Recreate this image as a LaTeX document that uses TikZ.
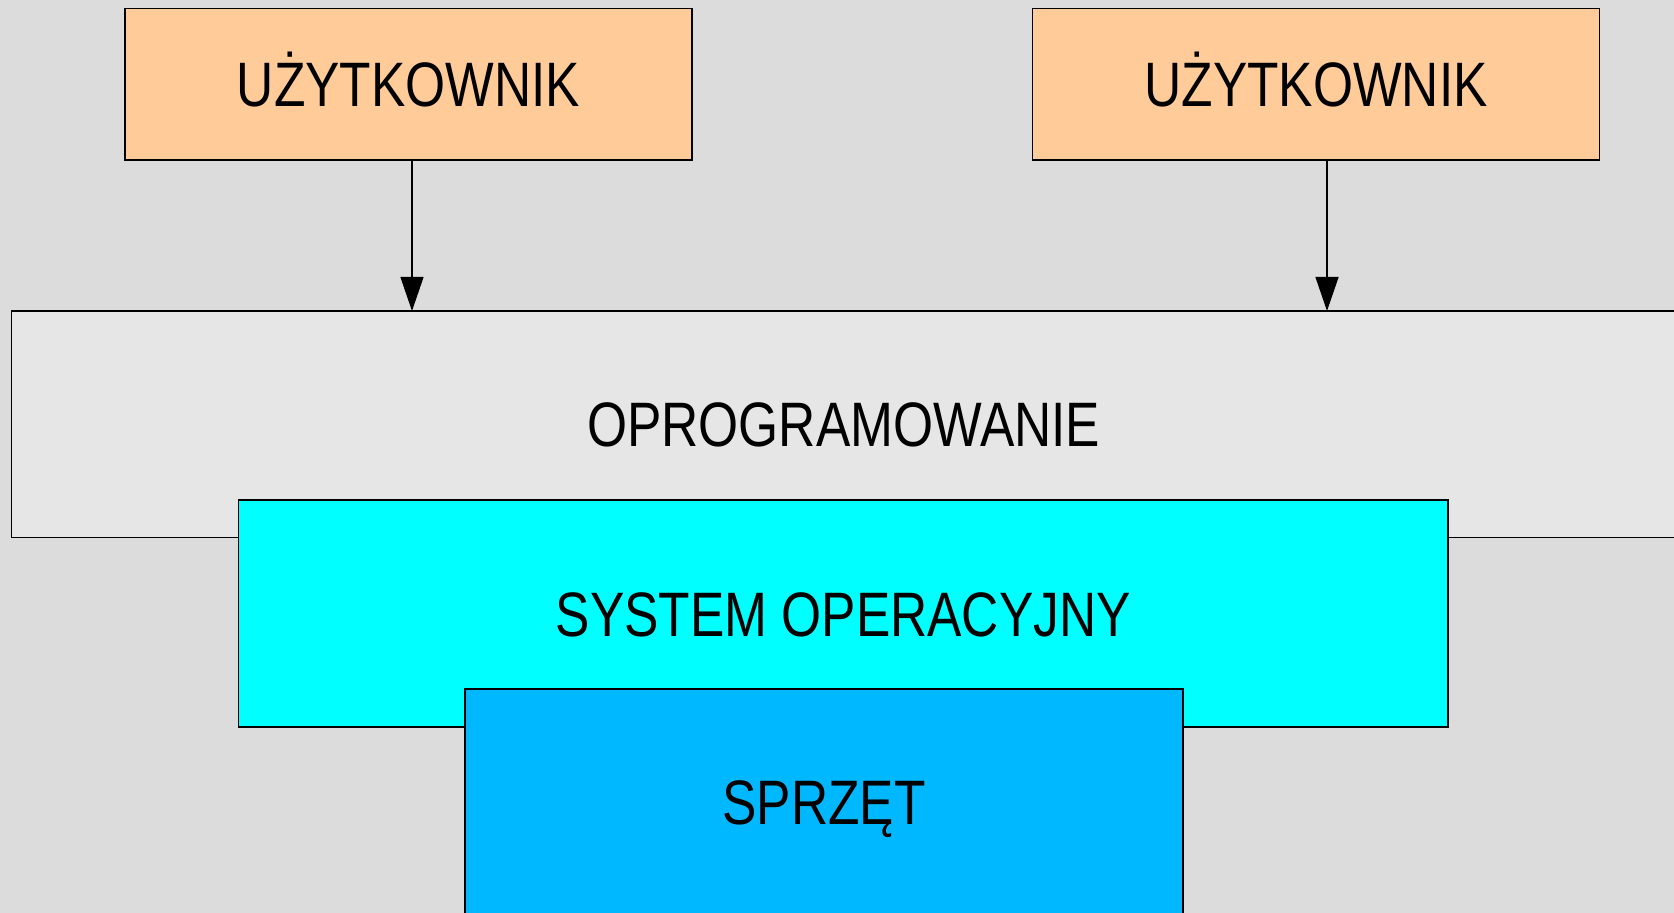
\documentclass[tikz,border=0pt]{standalone}
\usepackage{fontspec}
\setmainfont{Liberation Sans}[FakeStretch=0.82]
\usepackage{tikz}
\usetikzlibrary{arrows.meta}
\definecolor{tlo}{HTML}{DCDCDC}
\definecolor{brzoskwinia}{HTML}{FFCC99}
\definecolor{jasnoszary}{HTML}{E6E6E6}
\definecolor{cyjan}{HTML}{00FFFF}
\definecolor{niebieski}{HTML}{00B8FF}

\begin{document}
\begin{tikzpicture}[x=0.5pt,y=-0.5pt,
  warstwa/.style={draw=black,line width=0.6pt,inner sep=0pt,
    text height=22.5pt,text depth=0pt,font=\fontsize{31.4}{36}\selectfont},
  uzytk/.style={warstwa,fill=brzoskwinia,minimum width=283.5pt,minimum height=75.75pt},
  strzalka/.style={line width=0.6pt,-{Triangle[length=17pt,width=11.5pt]}}]
\fill[tlo] (0,0) rectangle (1674,913);
\useasboundingbox (0,0) rectangle (1674,913);

\node[uzytk] (U1) at (408.5,84.3) {UŻYTKOWNIK};
\node[uzytk] (U2) at (1316,84.3) {UŻYTKOWNIK};

\node[warstwa,fill=jasnoszary,minimum width=832.25pt,minimum height=113.25pt]
  (OP) at (843.7,424.2) {OPROGRAMOWANIE};
\node[warstwa,fill=cyjan,minimum width=604.75pt,minimum height=113.5pt]
  (SO) at (843.25,613.5) {SYSTEM OPERACYJNY};
\node[warstwa,fill=niebieski,minimum width=359pt,minimum height=112.5pt]
  (SP) at (824,801.5) {SPRZĘT};

\coordinate (W1) at (412,311);
\coordinate (W2) at (1327,311);
\draw[strzalka] (W1 |- U1.south) -- (W1);
\draw[strzalka] (W2 |- U2.south) -- (W2);

\end{tikzpicture}
\end{document}
